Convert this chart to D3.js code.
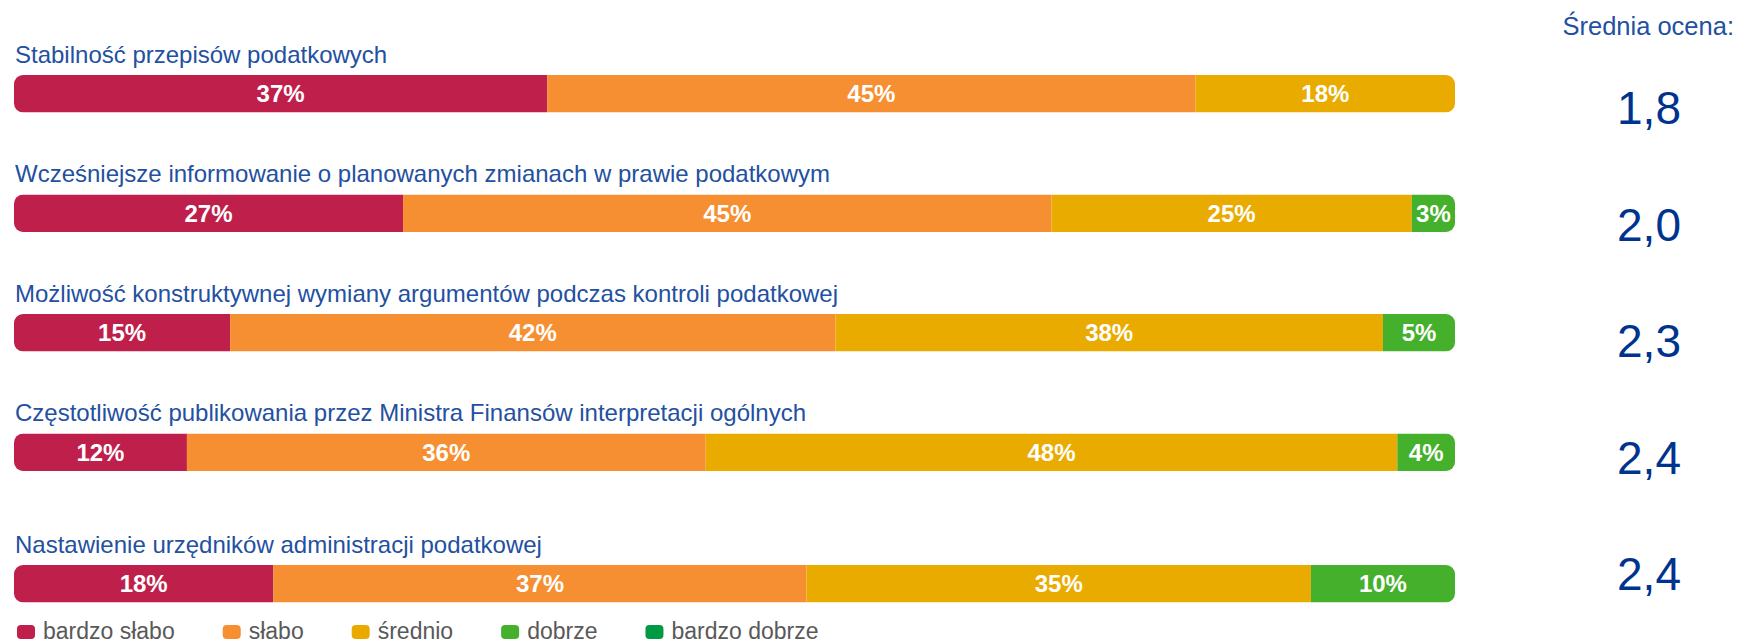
<!DOCTYPE html>
<html>
<head>
<meta charset="utf-8">
<script src="https://cdn.jsdelivr.net/npm/d3@7"></script>
<style>
  html, body { margin: 0; padding: 0; background: #fff; }
  svg { display: block; font-family: "Liberation Sans", Arial, sans-serif; }
</style>
</head>
<body>
<svg id="chart" width="1738" height="644"></svg>
<script>
// ---- data ----
const categories = [
  "Stabilność przepisów podatkowych",
  "Wcześniejsze informowanie o planowanych zmianach w prawie podatkowym",
  "Możliwość konstruktywnej wymiany argumentów podczas kontroli podatkowej",
  "Częstotliwość publikowania przez Ministra Finansów interpretacji ogólnych",
  "Nastawienie urzędników administracji podatkowej"
];
const seriesNames = ["bardzo słabo", "słabo", "średnio", "dobrze", "bardzo dobrze"];
const bardzoSlabo  = [37, 27, 15, 12, 18];
const slabo        = [45, 45, 42, 36, 37];
const srednio      = [18, 25, 38, 48, 35];
const dobrze       = [ 0,  3,  5,  4, 10];
const bardzoDobrze = [ 0,  0,  0,  0,  0];
const averages     = [1.8, 2.0, 2.3, 2.4, 2.4];
const averageTitle = "Średnia ocena:";

// ---- styles / layout ----
const colors = ["#be1f4b", "#f68f31", "#eaab00", "#44b02b", "#009a44"];
const titleColor = "#2350a0";
const avgColor = "#00338d";
const barLeft = 14, barRight = 1455, barH = 37.5, barRadius = 9;
const firstBarTop = 75, rowStep = 119.5, lastRowExtraGap = 12;

const seriesArrays = [bardzoSlabo, slabo, srednio, dobrze, bardzoDobrze];
const table = categories.map((c, i) => {
  const row = { category: c, index: i };
  seriesNames.forEach((s, k) => row[s] = seriesArrays[k][i]);
  return row;
});

const svg = d3.select("#chart");
const x = d3.scaleLinear().domain([0, 100]).range([barLeft, barRight]);
const rowScale = d3.scalePoint().domain(categories).range([firstBarTop, firstBarTop + rowStep * (categories.length - 1)]);
const rowTop = c => rowScale(c) + (categories.indexOf(c) === categories.length - 1 ? lastRowExtraGap : 0);
const color = d3.scaleOrdinal().domain(seriesNames).range(colors);

const stacked = d3.stack().keys(seriesNames)(table);

// clip paths for rounded bars
const defs = svg.append("defs");
categories.forEach((c, i) => {
  defs.append("clipPath").attr("id", "clip" + i)
    .append("rect")
    .attr("x", x(0)).attr("y", rowTop(c))
    .attr("width", x(100) - x(0)).attr("height", barH)
    .attr("rx", barRadius).attr("ry", barRadius);
});

// titles
svg.append("g").selectAll("text").data(categories).join("text")
  .attr("x", barLeft + 1)
  .attr("y", c => rowTop(c) - 12.5)
  .attr("fill", titleColor)
  .attr("font-size", 24)
  .text(c => c);

// bars
const rows = svg.append("g").selectAll("g").data(categories).join("g")
  .attr("clip-path", (c, i) => `url(#clip${i})`);
rows.each(function(c, i) {
  const g = d3.select(this);
  stacked.forEach(layer => {
    const d = layer[i];
    if (d[1] - d[0] <= 0) return;
    g.append("rect")
      .attr("x", x(d[0]))
      .attr("y", rowTop(c))
      .attr("width", x(d[1]) - x(d[0]))
      .attr("height", barH)
      .attr("fill", color(layer.key));
  });
});

// value labels
const labelG = svg.append("g");
stacked.forEach(layer => {
  layer.forEach((d, i) => {
    const v = d[1] - d[0];
    if (v <= 0) return;
    const c = categories[i];
    labelG.append("text")
      .attr("x", (x(d[0]) + x(d[1])) / 2)
      .attr("y", rowTop(c) + barH / 2 + 8.5)
      .attr("text-anchor", "middle")
      .attr("fill", "#fff")
      .attr("font-weight", "bold")
      .attr("font-size", 24)
      .text(v + "%");
  });
});

// averages
const fmt = v => d3.format(".1f")(v).replace(".", ",");
svg.append("text")
  .attr("x", 1734).attr("y", 35)
  .attr("text-anchor", "end")
  .attr("fill", titleColor)
  .attr("font-size", 25.5)
  .text(averageTitle);
const avgY = d3.scalePoint().domain(categories).range([124, 590]);
svg.append("g").selectAll("text").data(categories).join("text")
  .attr("x", 1649)
  .attr("y", c => avgY(c))
  .attr("text-anchor", "middle")
  .attr("fill", avgColor)
  .attr("font-size", 46)
  .text((c, i) => fmt(averages[i]));

// legend
const legend = svg.append("g");
let lx = 17;
seriesNames.forEach(s => {
  legend.append("rect")
    .attr("x", lx).attr("y", 625)
    .attr("width", 18).attr("height", 14)
    .attr("rx", 4).attr("ry", 4)
    .attr("fill", color(s));
  const t = legend.append("text")
    .attr("x", lx + 26).attr("y", 639)
    .attr("fill", "#595959")
    .attr("font-size", 23)
    .text(s);
  lx += 26 + t.node().getComputedTextLength() + 48;
});
</script>
</body>
</html>
